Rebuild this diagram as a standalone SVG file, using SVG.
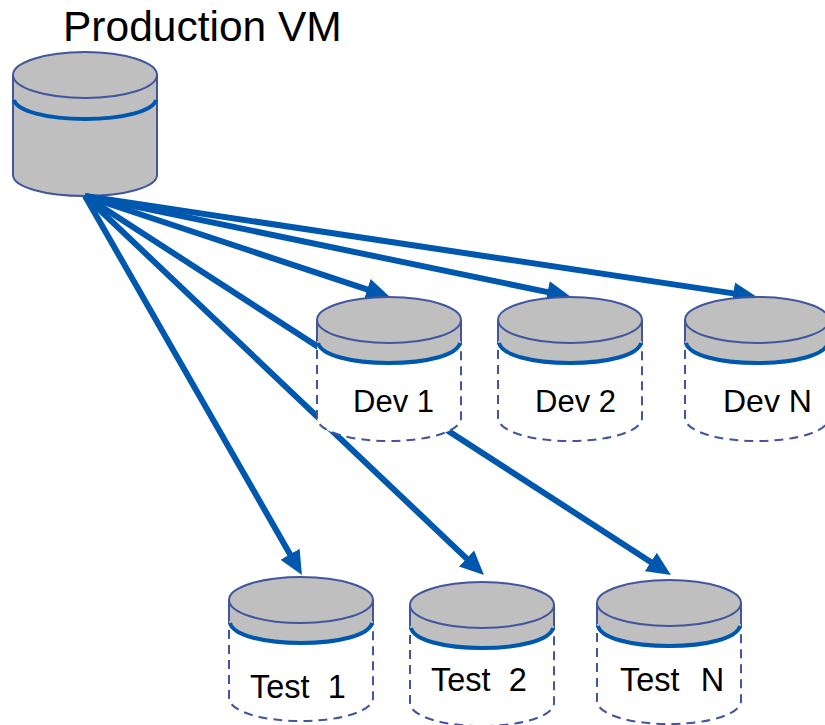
<svg xmlns="http://www.w3.org/2000/svg" width="825" height="725" viewBox="0 0 825 725">
<style>
.t{font-family:"Liberation Sans",Arial,sans-serif;fill:#000}
.l{font-size:31px}
.m{font-size:32.5px}
.c{stroke:#0058ae;stroke-width:6;fill:none;marker-end:url(#a)}
.g{fill:#bfbfbf;stroke:#41569c;stroke-width:2}
.w{fill:#fff;stroke:#41569c;stroke-width:2;stroke-dasharray:9 6}
.b{fill:none;stroke:#0058ae;stroke-width:4}
</style>
<defs>
<marker id="a" markerUnits="userSpaceOnUse" markerWidth="24" markerHeight="24" refX="10" refY="12" orient="auto"><path d="M0 1L24 12L0 23Z" fill="#0058ae"/></marker>
<g id="s">
<path class="w" d="M0 23V121C0 134 32 144 72 144S144 134 144 121V23"/>
<path d="M0 23V44C0 57 32 67 72 67S144 57 144 44V23Z" fill="#bfbfbf"/>
<path class="b" d="M1 46C4 58 34 66 72 66S140 58 143 46"/>
<path class="g" d="M0 23V44M144 23V44"/>
<ellipse class="g" cx="72" cy="23" rx="72" ry="23"/>
</g>
</defs>
<g id="production">
<path class="g" d="M13 75V175C13 187 45 196 85 196S157 187 157 175V75Z"/>
<path class="b" d="M14 100C17 111 47 119 85 119S153 111 156 100"/>
<ellipse class="g" cx="85" cy="75" rx="72" ry="23"/>
<text class="t" x="63" y="41" font-size="42.5">Production VM</text>
</g>
<g id="connectors">
<path class="c" d="M85 196L376.7 292.6"/>
<path class="c" d="M85 196L557.3 294.1"/>
<path class="c" d="M85 196L743.2 294.9"/>
<path class="c" d="M85 196L295 562.9"/>
<path class="c" d="M85 196L473.8 565.4"/>
<path class="c" d="M85 196L659.2 567.4"/>
</g>
<g id="dev1"><use href="#s" x="317" y="297"/><text class="t l" x="353" y="412">Dev 1</text></g>
<g id="dev2"><use href="#s" x="498" y="297"/><text class="t l" x="535" y="412">Dev 2</text></g>
<g id="devn"><use href="#s" x="685" y="297"/><text class="t" font-size="32" x="723" y="412">Dev N</text></g>
<g id="test1"><use href="#s" x="229" y="577"/><text class="t m" x="250" y="698" xml:space="preserve">Test  1</text></g>
<g id="test2"><use href="#s" x="410" y="582"/><text class="t m" x="431" y="691" xml:space="preserve">Test  2</text></g>
<g id="testn"><use href="#s" x="597" y="580"/><text class="t m" x="620" y="691" xml:space="preserve" word-spacing="1.5">Test  N</text></g>
</svg>
